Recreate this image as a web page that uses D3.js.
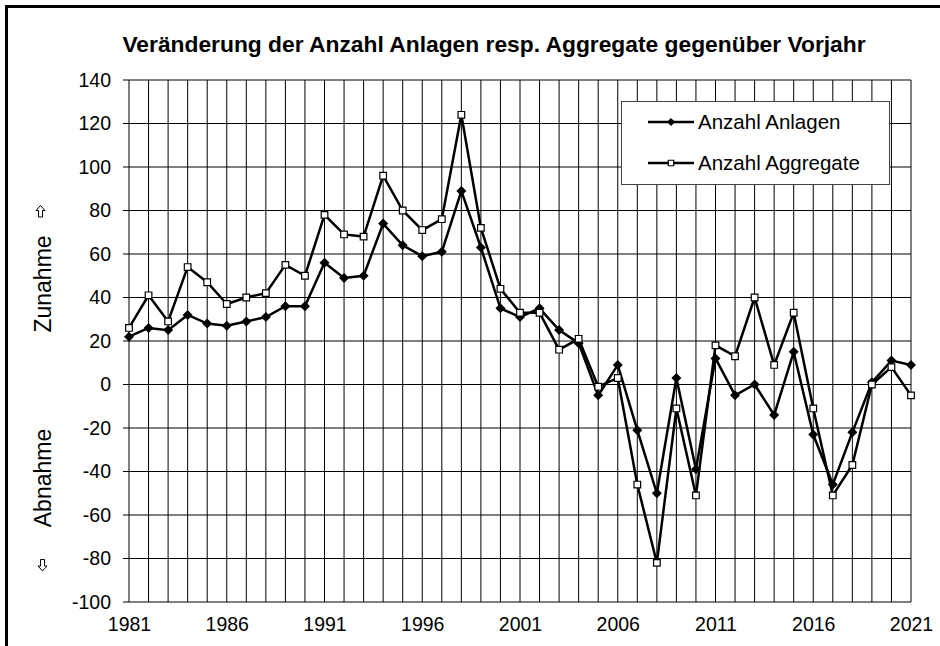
<!DOCTYPE html>
<html>
<head>
<meta charset="utf-8">
<script src="https://cdn.jsdelivr.net/npm/d3@7"></script>
<style>
  body { margin: 0; background: #fff; }
  svg { display: block; font-family: Arial, "Liberation Sans", sans-serif; }
</style>
</head>
<body>
<div id="chart"></div>
<script>
const years = d3.range(1981, 2022);
const anlagen = [22, 26, 25, 32, 28, 27, 29, 31, 36, 36,
                 56, 49, 50, 74, 64, 59, 61, 89, 63, 35,
                 31, 35, 25, 19, -5, 9, -21, -50, 3, -39,
                 12, -5, 0, -14, 15, -23, -46, -22, 1, 11, 9];
const aggregate = [26, 41, 29, 54, 47, 37, 40, 42, 55, 50,
                   78, 69, 68, 96, 80, 71, 76, 124, 72, 44,
                   33, 33, 16, 21, -1, 3, -46, -82, -11, -51,
                   18, 13, 40, 9, 33, -11, -51, -37, 0, 8, -5];
const yTicks = d3.range(-100, 141, 20);
const xLabels = [1981, 1986, 1991, 1996, 2001, 2006, 2011, 2016, 2021];
const seriesNames = ["Anzahl Anlagen", "Anzahl Aggregate"];
const title = "Veränderung der Anzahl Anlagen resp. Aggregate gegenüber Vorjahr";

const width = 940, height = 646;
const margin = { left: 129, right: 29, top: 80, bottom: 44 };

const x = d3.scaleLinear().domain([1981, 2021]).range([margin.left, width - margin.right]);
const y = d3.scaleLinear().domain([-100, 140]).range([height - margin.bottom, margin.top]);

const svg = d3.select("#chart").append("svg")
    .attr("width", width)
    .attr("height", height);

// outer frame (only top / left inside the picture)
svg.append("rect")
    .attr("x", 6.5).attr("y", 6.5)
    .attr("width", 1200).attr("height", 1200)
    .attr("fill", "none")
    .attr("stroke", "#000")
    .attr("stroke-width", 3);

svg.append("text")
    .attr("x", 494)
    .attr("y", 52)
    .attr("text-anchor", "middle")
    .style("font-size", "22.8px")
    .style("font-weight", "bold")
    .text(title);

// grid
const grid = svg.append("g").attr("stroke", "#000").attr("stroke-width", 1);
grid.selectAll("line.v")
    .data(years)
    .join("line")
    .attr("class", "v")
    .attr("x1", d => x(d)).attr("x2", d => x(d))
    .attr("y1", y(140)).attr("y2", y(-100));
grid.selectAll("line.h")
    .data(yTicks)
    .join("line")
    .attr("class", "h")
    .attr("x1", x(1981) - 6).attr("x2", x(2021))
    .attr("y1", d => y(d)).attr("y2", d => y(d));

// y axis labels
const yAxis = d3.axisLeft(y).tickValues(yTicks).tickFormat(d => String(d)).tickSize(0).tickPadding(18);
svg.append("g")
    .attr("transform", `translate(${x(1981)},0)`)
    .call(yAxis)
    .call(g => g.select(".domain").remove())
    .call(g => g.selectAll("text")
        .attr("font-family", "Arial, 'Liberation Sans', sans-serif")
        .attr("font-size", 19.5)
        .attr("fill", "#000"));

// x axis labels
const xAxis = d3.axisBottom(x).tickValues(xLabels).tickFormat(d => String(d)).tickSize(0).tickPadding(15);
svg.append("g")
    .attr("transform", `translate(0,${y(-100)})`)
    .call(xAxis)
    .call(g => g.select(".domain").remove())
    .call(g => g.selectAll("text")
        .attr("font-family", "Arial, 'Liberation Sans', sans-serif")
        .attr("font-size", 19.5)
        .attr("fill", "#000"));

// axis side labels
svg.append("text")
    .attr("transform", "translate(51,284) rotate(-90)")
    .attr("text-anchor", "middle")
    .style("font-size", "23px")
    .text("Zunahme");
svg.append("text")
    .attr("transform", "translate(51,478) rotate(-90)")
    .attr("text-anchor", "middle")
    .style("font-size", "23px")
    .text("Abnahme");

// hollow arrows next to the side labels
const arrowPts = [[0, -6], [4.5, -1], [2, -1], [2, 5.5], [-2, 5.5], [-2, -1], [-4.5, -1]];
const arrow = d3.line()(arrowPts) + "Z";
svg.append("path")
    .attr("d", arrow)
    .attr("transform", "translate(40.5,211.5)")
    .attr("fill", "#fff").attr("stroke", "#000").attr("stroke-width", 1);
svg.append("path")
    .attr("d", arrow)
    .attr("transform", "translate(42.5,565) rotate(180)")
    .attr("fill", "#fff").attr("stroke", "#000").attr("stroke-width", 1);

// series
const line = d3.line().x((d, i) => x(years[i])).y(d => y(d));
const diamond = d3.symbol(d3.symbolSquare, 50);
const square = d3.symbol(d3.symbolSquare, 44);

const s1 = svg.append("g");
s1.append("path")
    .datum(anlagen)
    .attr("d", line)
    .attr("fill", "none")
    .attr("stroke", "#000")
    .attr("stroke-width", 2.5);
s1.selectAll("path.pt")
    .data(anlagen)
    .join("path")
    .attr("class", "pt")
    .attr("d", diamond)
    .attr("transform", (d, i) => `translate(${x(years[i])},${y(d)}) rotate(45)`)
    .attr("fill", "#000");

const s2 = svg.append("g");
s2.append("path")
    .datum(aggregate)
    .attr("d", line)
    .attr("fill", "none")
    .attr("stroke", "#000")
    .attr("stroke-width", 2.5);
s2.selectAll("path.pt")
    .data(aggregate)
    .join("path")
    .attr("class", "pt")
    .attr("d", square)
    .attr("transform", (d, i) => `translate(${x(years[i])},${y(d)})`)
    .attr("fill", "#fff")
    .attr("stroke", "#000")
    .attr("stroke-width", 1.2);

// legend
const legend = svg.append("g").attr("transform", "translate(621,101)");
legend.append("rect")
    .attr("x", 0.5).attr("y", 0.5)
    .attr("width", 268).attr("height", 83)
    .attr("fill", "#fff")
    .attr("stroke", "#444")
    .attr("stroke-width", 1);
const rows = legend.selectAll("g.row")
    .data(seriesNames)
    .join("g")
    .attr("class", "row")
    .attr("transform", (d, i) => `translate(0,${21 + i * 41})`);
rows.append("line")
    .attr("x1", 27).attr("x2", 73)
    .attr("stroke", "#000").attr("stroke-width", 2.5);
rows.append("path")
    .attr("d", (d, i) => i === 0 ? d3.symbol(d3.symbolSquare, 32)() : d3.symbol(d3.symbolSquare, 30)())
    .attr("transform", (d, i) => i === 0 ? "translate(50,0) rotate(45)" : "translate(50,0)")
    .attr("fill", (d, i) => i === 0 ? "#000" : "#fff")
    .attr("stroke", (d, i) => i === 0 ? "none" : "#000")
    .attr("stroke-width", 1.2);
rows.append("text")
    .attr("x", 77)
    .attr("dy", "0.35em")
    .style("font-size", "20.5px")
    .text(d => d);
</script>
</body>
</html>
